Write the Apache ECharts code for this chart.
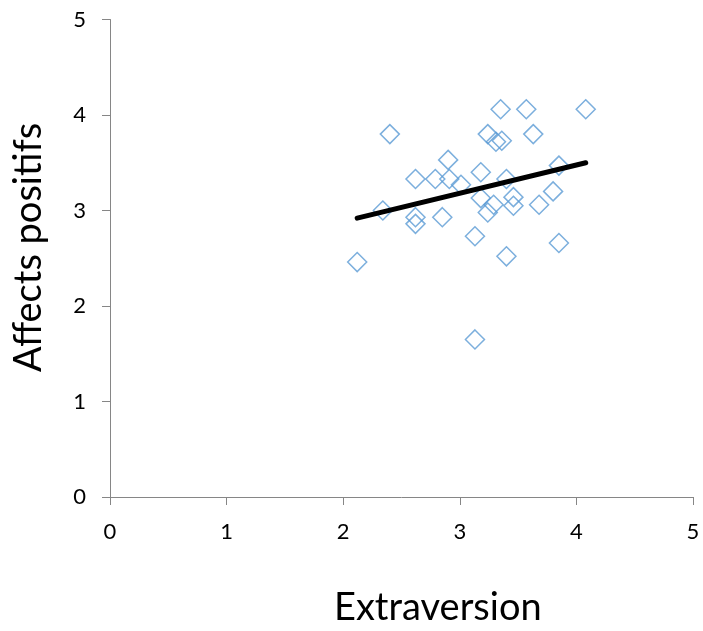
<!DOCTYPE html>
<html lang="fr">
<head>
    <meta charset="UTF-8">
    <title>Extraversion / Affects positifs</title>
    <script src="https://cdn.jsdelivr.net/npm/echarts@6/dist/echarts.min.js"></script>
    <style>
        html, body { margin: 0; padding: 0; background: #fff; }
        #container { width: 703px; height: 631px; }
    </style>
</head>
<body>
<div id="container"></div>
<script>
    // valeurs
    var extraversion = [3.35, 3.57, 4.08, 2.40, 3.24, 3.31, 3.36, 3.63, 2.90, 2.62, 2.79, 2.91, 3.01, 3.18, 3.40, 3.85,
        2.34, 2.62, 2.62, 2.85, 3.18, 3.29, 3.24, 3.46, 3.46, 3.68, 3.80, 3.13, 3.85, 3.40, 2.12, 3.13];
    var affects = [4.06, 4.06, 4.06, 3.80, 3.80, 3.72, 3.73, 3.80, 3.53, 3.33, 3.33, 3.33, 3.27, 3.40, 3.33, 3.47,
        3.00, 2.93, 2.86, 2.93, 3.13, 3.06, 2.98, 3.14, 3.05, 3.06, 3.20, 2.73, 2.66, 2.52, 2.46, 1.65];
    // droite de tendance (extrémités)
    var trendX = [2.12, 4.08];
    var trendY = [2.92, 3.50];
    var ticks = [0, 1, 2, 3, 4, 5];

    var points = [];
    for (var i = 0; i < extraversion.length; i++) {
        points.push([extraversion[i], affects[i]]);
    }
    var trend = [];
    for (var j = 0; j < trendX.length; j++) {
        trend.push([trendX[j], trendY[j]]);
    }

    var font = 'Lato, "Open Sans", sans-serif';
    var axisGray = '#868686';

    var myChart = echarts.init(document.getElementById('container'));
    var option = {
        animation: false,
        grid: { left: 110, top: 19.5, right: 10, bottom: 134 },
        xAxis: {
            type: 'value',
            min: ticks[0], max: ticks[ticks.length - 1], interval: 1,
            axisLine: { show: true, onZero: false, lineStyle: { color: axisGray, width: 1 } },
            axisTick: { show: true, inside: false, length: 8, lineStyle: { color: axisGray } },
            splitLine: { show: false },
            axisLabel: { color: '#000', fontSize: 22, fontFamily: font, margin: 24 }
        },
        yAxis: {
            type: 'value',
            min: ticks[0], max: ticks[ticks.length - 1], interval: 1,
            axisLine: { show: true, onZero: false, lineStyle: { color: axisGray, width: 1 } },
            axisTick: { show: true, inside: false, length: 8, lineStyle: { color: axisGray } },
            splitLine: { show: false },
            axisLabel: { color: '#000', fontSize: 22, fontFamily: font, margin: 24 }
        },
        graphic: [
            {
                type: 'text',
                left: 334, top: 589,
                style: { text: 'Extraversion', fontSize: 38, fontFamily: font, fill: '#000' }
            },
            {
                type: 'text',
                x: 10, y: 372,
                rotation: Math.PI / 2,
                style: { text: 'Affects positifs', fontSize: 38, fontFamily: font, fill: '#000' }
            }
        ],
        series: [
            {
                type: 'scatter',
                data: points,
                symbol: 'diamond',
                symbolSize: 19,
                itemStyle: { color: 'rgba(255,255,255,0)', borderColor: '#5B9BD5', borderWidth: 1.5 },
                z: 2
            },
            {
                type: 'line',
                data: trend,
                showSymbol: false,
                lineStyle: { color: '#000', width: 5, cap: 'round' },
                z: 3
            }
        ]
    };
    myChart.setOption(option);
</script>
</body>
</html>
